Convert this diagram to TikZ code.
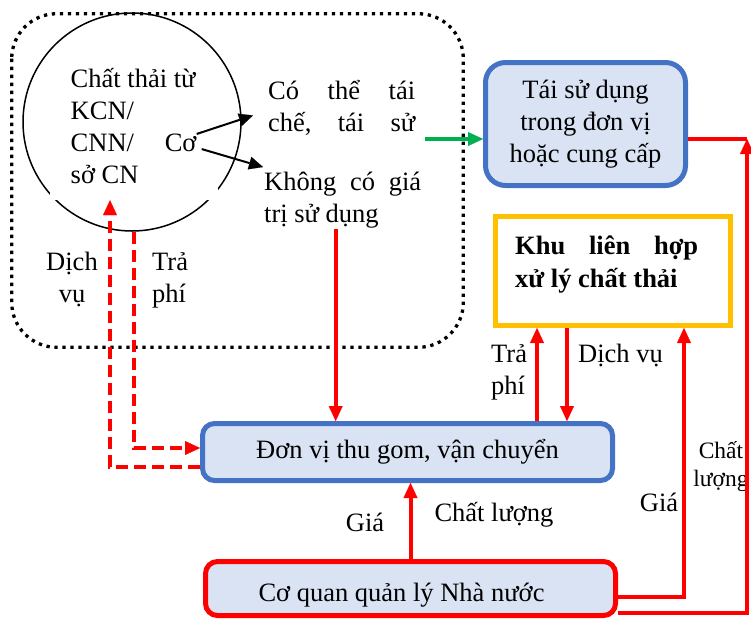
\documentclass[tikz,border=0pt]{standalone}
\usepackage{fontspec}
\setmainfont{Liberation Serif}
\usetikzlibrary{arrows.meta}
\definecolor{boxblue}{HTML}{4472C4}
\definecolor{boxfill}{HTML}{DAE3F3}
\definecolor{boxgold}{HTML}{FFC000}
\definecolor{flowgreen}{HTML}{00B050}
\begin{document}
\begin{tikzpicture}[x=1pt,y=-1pt,
  every node/.style={inner sep=0pt, font=\fontsize{26.5}{32}\selectfont},
  redtip/.style={-{Triangle[length=15pt,width=14pt,line width=0.1pt]}},
  flow/.style={red, line width=4pt, redtip},
  dashflow/.style={red, line width=4.3pt, dash pattern=on 12pt off 6pt},
  blackflow/.style={black, line width=2pt, -{Triangle[length=14pt,width=13pt,line width=0.1pt]}},
  bluebox/.style={draw=boxblue, fill=boxfill, line width=5pt, rounded corners=12pt}]
  \useasboundingbox (0,0) rectangle (751,619);

  \draw[line width=3.3pt, dash pattern=on 3.3pt off 4.7pt, rounded corners=45pt] (11.7,13.7) rectangle (463.3,347.3);

  \node[draw, circle, minimum size=218pt, line width=1.5pt] (circ) at (132,122) {};
  \node[fill=white, minimum width=168pt, minimum height=140pt] (srcbox) at (134,130) {};
  \node[anchor=base west, text width=127pt, align=justify] (srctxt) at (70.5,87.3) {Chất thải từ\\KCN/\\CNN/\\sở CN};
  \node[anchor=base east] (co) at (196.7,151.7) {Cơ};
  \node[anchor=base west, text width=147pt, align=justify] (recyc) at (268,99) {Có\hfill thể\hfill tái\\chế,\hfill tái\hfill sử};
  \node[anchor=base west, text width=157pt, align=justify] (novalue) at (264,190.7) {Không\hfill có\hfill giá\\trị sử dụng};

  \node[bluebox, rounded corners=20pt, minimum width=200pt, minimum height=123pt, align=center] (reuse) at (585.5,124) {Tái sử dụng\\trong đơn vị\\hoặc cung cấp};
  \node[draw=boxgold, line width=5pt, fill=white, minimum width=235pt, minimum height=109pt] (khu) at (613,271) {};
  \node[anchor=base west, text width=183pt, align=justify, font=\fontsize{26.5}{33}\selectfont\bfseries] (khutxt) at (515,254) {Khu\hfill liên\hfill hợp\\xử lý chất thải};
  \node[bluebox, minimum width=410pt, minimum height=57pt] (dv) at (407.5,452) {Đơn vị thu gom, vận chuyển};
  \node[bluebox, draw=red, minimum width=410pt, minimum height=54pt, text height=25pt, text depth=0pt] (cq) at (410.5,588.5) {Cơ quan quản lý Nhà nước\hspace*{18pt}};

  \node[anchor=base, text width=60pt, align=center] (svclbl) at (72,270) {Dịch\\vụ};
  \node[anchor=base west, text width=40pt, align=left] (paylbl) at (152,270) {Trả\\phí};
  \node[anchor=base west, text width=40pt, align=left] (paylbl2) at (491,362) {Trả\\phí};
  \node[anchor=base west] (svclbl2) at (578,362) {Dịch vụ};
  \node[anchor=base] (pricelbl) at (365,531) {Giá};
  \node[anchor=base] (qualbl) at (494,521) {Chất lượng};
  \node[anchor=base] (pricelbl2) at (659,511) {Giá};
  \node[anchor=base, text width=60pt, align=center, font=\fontsize{23.5}{28}\selectfont] (qualbl2) at (721,458) {Chất\\lượng};

  \coordinate (svcx) at (110,0);
  \coordinate (payx) at (537,0);
  \coordinate (dlvx) at (567,0);
  \coordinate (pricex) at (684,0);
  \coordinate (rjoin) at (747,139);
  \coordinate (gstart) at (425,139);
  \coordinate (dropx) at ([xshift=-7pt]novalue.south);

  \draw[blackflow] (co.north east) -- ([xshift=-15pt,yshift=-8pt]recyc.west);
  \draw[blackflow] ([xshift=5pt,yshift=-6pt]co.east) -- ([xshift=-1pt,yshift=5pt]novalue.north west);
  \draw[flowgreen, line width=4pt, redtip] (gstart) -- (gstart -| reuse.west);
  \draw[flow] (dropx) -- (dropx |- dv.north);
  \draw[dashflow, redtip] ([yshift=-15pt]dv.west) -| (svcx |- srcbox.south);
  \draw[dashflow, redtip] ([xshift=2pt]circ.south) |- ([yshift=4pt]dv.west);
  \draw[flow] (payx |- dv.north) -- (payx |- khu.south);
  \draw[flow] (dlvx |- khu.south) -- (dlvx |- dv.north);
  \draw[flow] (cq.north) -- (cq.north |- dv.south);
  \draw[flow] ([yshift=-8.5pt]cq.east) -| (pricex |- khu.south);
  \draw[red, line width=4pt] ([yshift=-15pt]reuse.east) -- (rjoin);
  \draw[flow] ([yshift=-24.5pt]cq.east) -| (rjoin);
\end{tikzpicture}
\end{document}
